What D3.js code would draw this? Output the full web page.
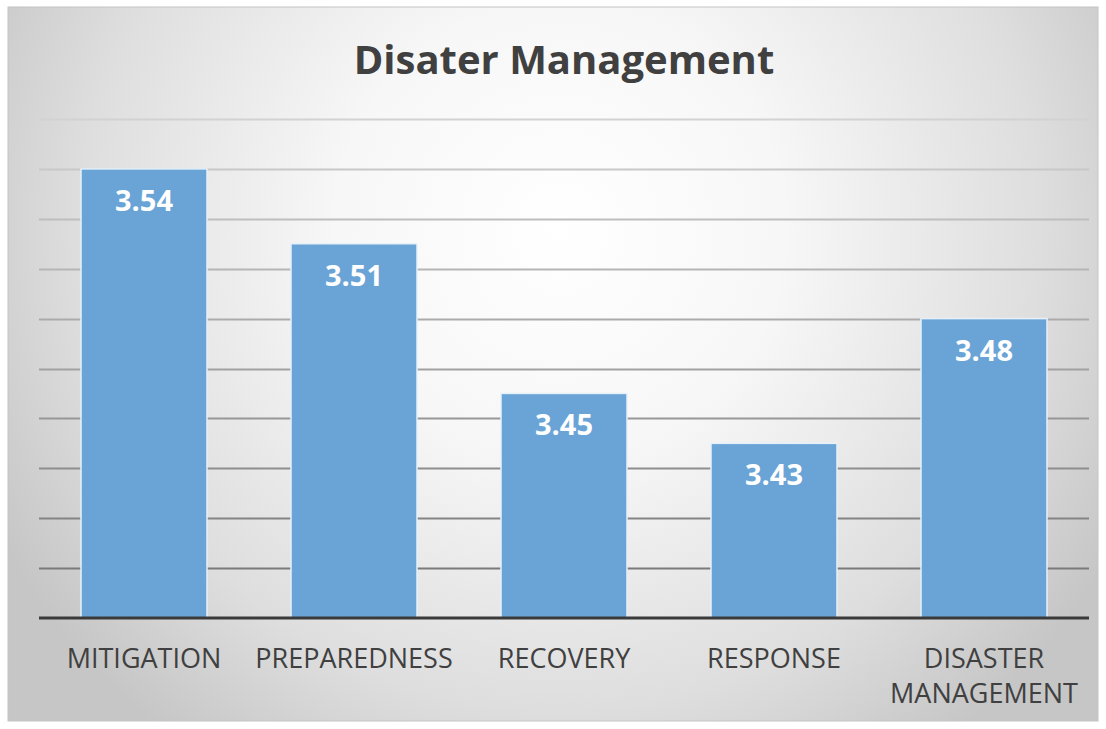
<!DOCTYPE html>
<html>
<head>
<meta charset="utf-8">
<script src="https://cdn.jsdelivr.net/npm/d3@7"></script>
<style>
  html, body { margin: 0; padding: 0; background: #ffffff; }
  svg { display: block; }
</style>
</head>
<body>
<svg id="chart" width="1106" height="729"></svg>
<script>
// Mean scores per disaster-management phase
const categories = ["MITIGATION", "PREPAREDNESS", "RECOVERY", "RESPONSE", "DISASTER MANAGEMENT"];
const values = [3.54, 3.51, 3.45, 3.43, 3.48];
const yTicks = [3.38, 3.40, 3.42, 3.44, 3.46, 3.48, 3.50, 3.52, 3.54, 3.56];
const chartTitle = "Disater Management";

const svg = d3.select("#chart");
const panel = { x: 8, y: 7, w: 1090, h: 714 };
const plot = { left: 39, right: 1089, top: 119, bottom: 618 };
const font = "'Open Sans', Lato, 'Liberation Sans', sans-serif";

const defs = svg.append("defs");
const bg = defs.append("radialGradient")
  .attr("id", "bg").attr("gradientUnits", "userSpaceOnUse")
  .attr("cx", 560).attr("cy", 230).attr("r", 640);
bg.append("stop").attr("offset", "0%").attr("stop-color", "#ffffff");
bg.append("stop").attr("offset", "35%").attr("stop-color", "#f7f7f7");
bg.append("stop").attr("offset", "75%").attr("stop-color", "#dedede");
bg.append("stop").attr("offset", "100%").attr("stop-color", "#c6c6c6");

// panel background and frame
svg.append("rect")
  .attr("x", panel.x).attr("y", panel.y)
  .attr("width", panel.w).attr("height", panel.h)
  .attr("fill", "url(#bg)")
  .attr("stroke", "#c4c4c4").attr("stroke-width", 1);

const x = d3.scaleBand()
  .domain(categories)
  .range([plot.left, plot.right])
  .paddingInner(0.4)
  .paddingOuter(0.2);

const y = d3.scaleLinear()
  .domain([3.36, 3.56])
  .range([plot.bottom, plot.top]);

// horizontal gridlines, darkening toward the baseline
svg.append("g")
  .selectAll("line")
  .data(yTicks)
  .join("line")
  .attr("x1", plot.left).attr("x2", plot.right)
  .attr("y1", d => Math.round(y(d)) + 0.5)
  .attr("y2", d => Math.round(y(d)) + 0.5)
  .attr("stroke", d => d3.interpolateRgb("#d2d2d2", "#7a7a7a")((3.56 - d) / 0.18))
  .attr("stroke-width", 2);

// bars
svg.append("g")
  .selectAll("rect")
  .data(values)
  .join("rect")
  .attr("x", (d, i) => x(categories[i]))
  .attr("y", d => y(d))
  .attr("width", x.bandwidth())
  .attr("height", d => y(3.36) - y(d))
  .attr("fill", "#6aa4d6")
  .attr("stroke", "#e6f0f9")
  .attr("stroke-width", 1.5);

// value labels inside bars
svg.append("g")
  .selectAll("text")
  .data(values)
  .join("text")
  .attr("x", (d, i) => x(categories[i]) + x.bandwidth() / 2)
  .attr("y", d => y(d) + 42)
  .attr("text-anchor", "middle")
  .attr("font-family", font)
  .attr("font-weight", "bold")
  .attr("font-size", 29)
  .attr("fill", "#ffffff")
  .text(d => d.toFixed(2));

// category axis line
svg.append("line")
  .attr("x1", plot.left).attr("x2", plot.right)
  .attr("y1", plot.bottom).attr("y2", plot.bottom)
  .attr("stroke", "#3a3a3a").attr("stroke-width", 3);

// category labels (long names wrap onto two lines)
const labels = svg.append("g");
categories.forEach(c => {
  const words = c.split(" ");
  const lines = words.length > 1 && c.length > 14 ? words : [c];
  const t = labels.append("text")
    .attr("x", x(c) + x.bandwidth() / 2)
    .attr("y", 668)
    .attr("text-anchor", "middle")
    .attr("font-family", font)
    .attr("font-size", 27)
    .attr("fill", "#404040");
  lines.forEach((ln, i) => {
    t.append("tspan")
      .attr("x", x(c) + x.bandwidth() / 2)
      .attr("dy", i === 0 ? 0 : 35)
      .text(ln);
  });
});

// title
svg.append("text")
  .attr("x", 564).attr("y", 74)
  .attr("text-anchor", "middle")
  .attr("font-family", font)
  .attr("font-weight", "bold")
  .attr("font-size", 40)
  .attr("fill", "#404040")
  .text(chartTitle);
</script>
</body>
</html>
